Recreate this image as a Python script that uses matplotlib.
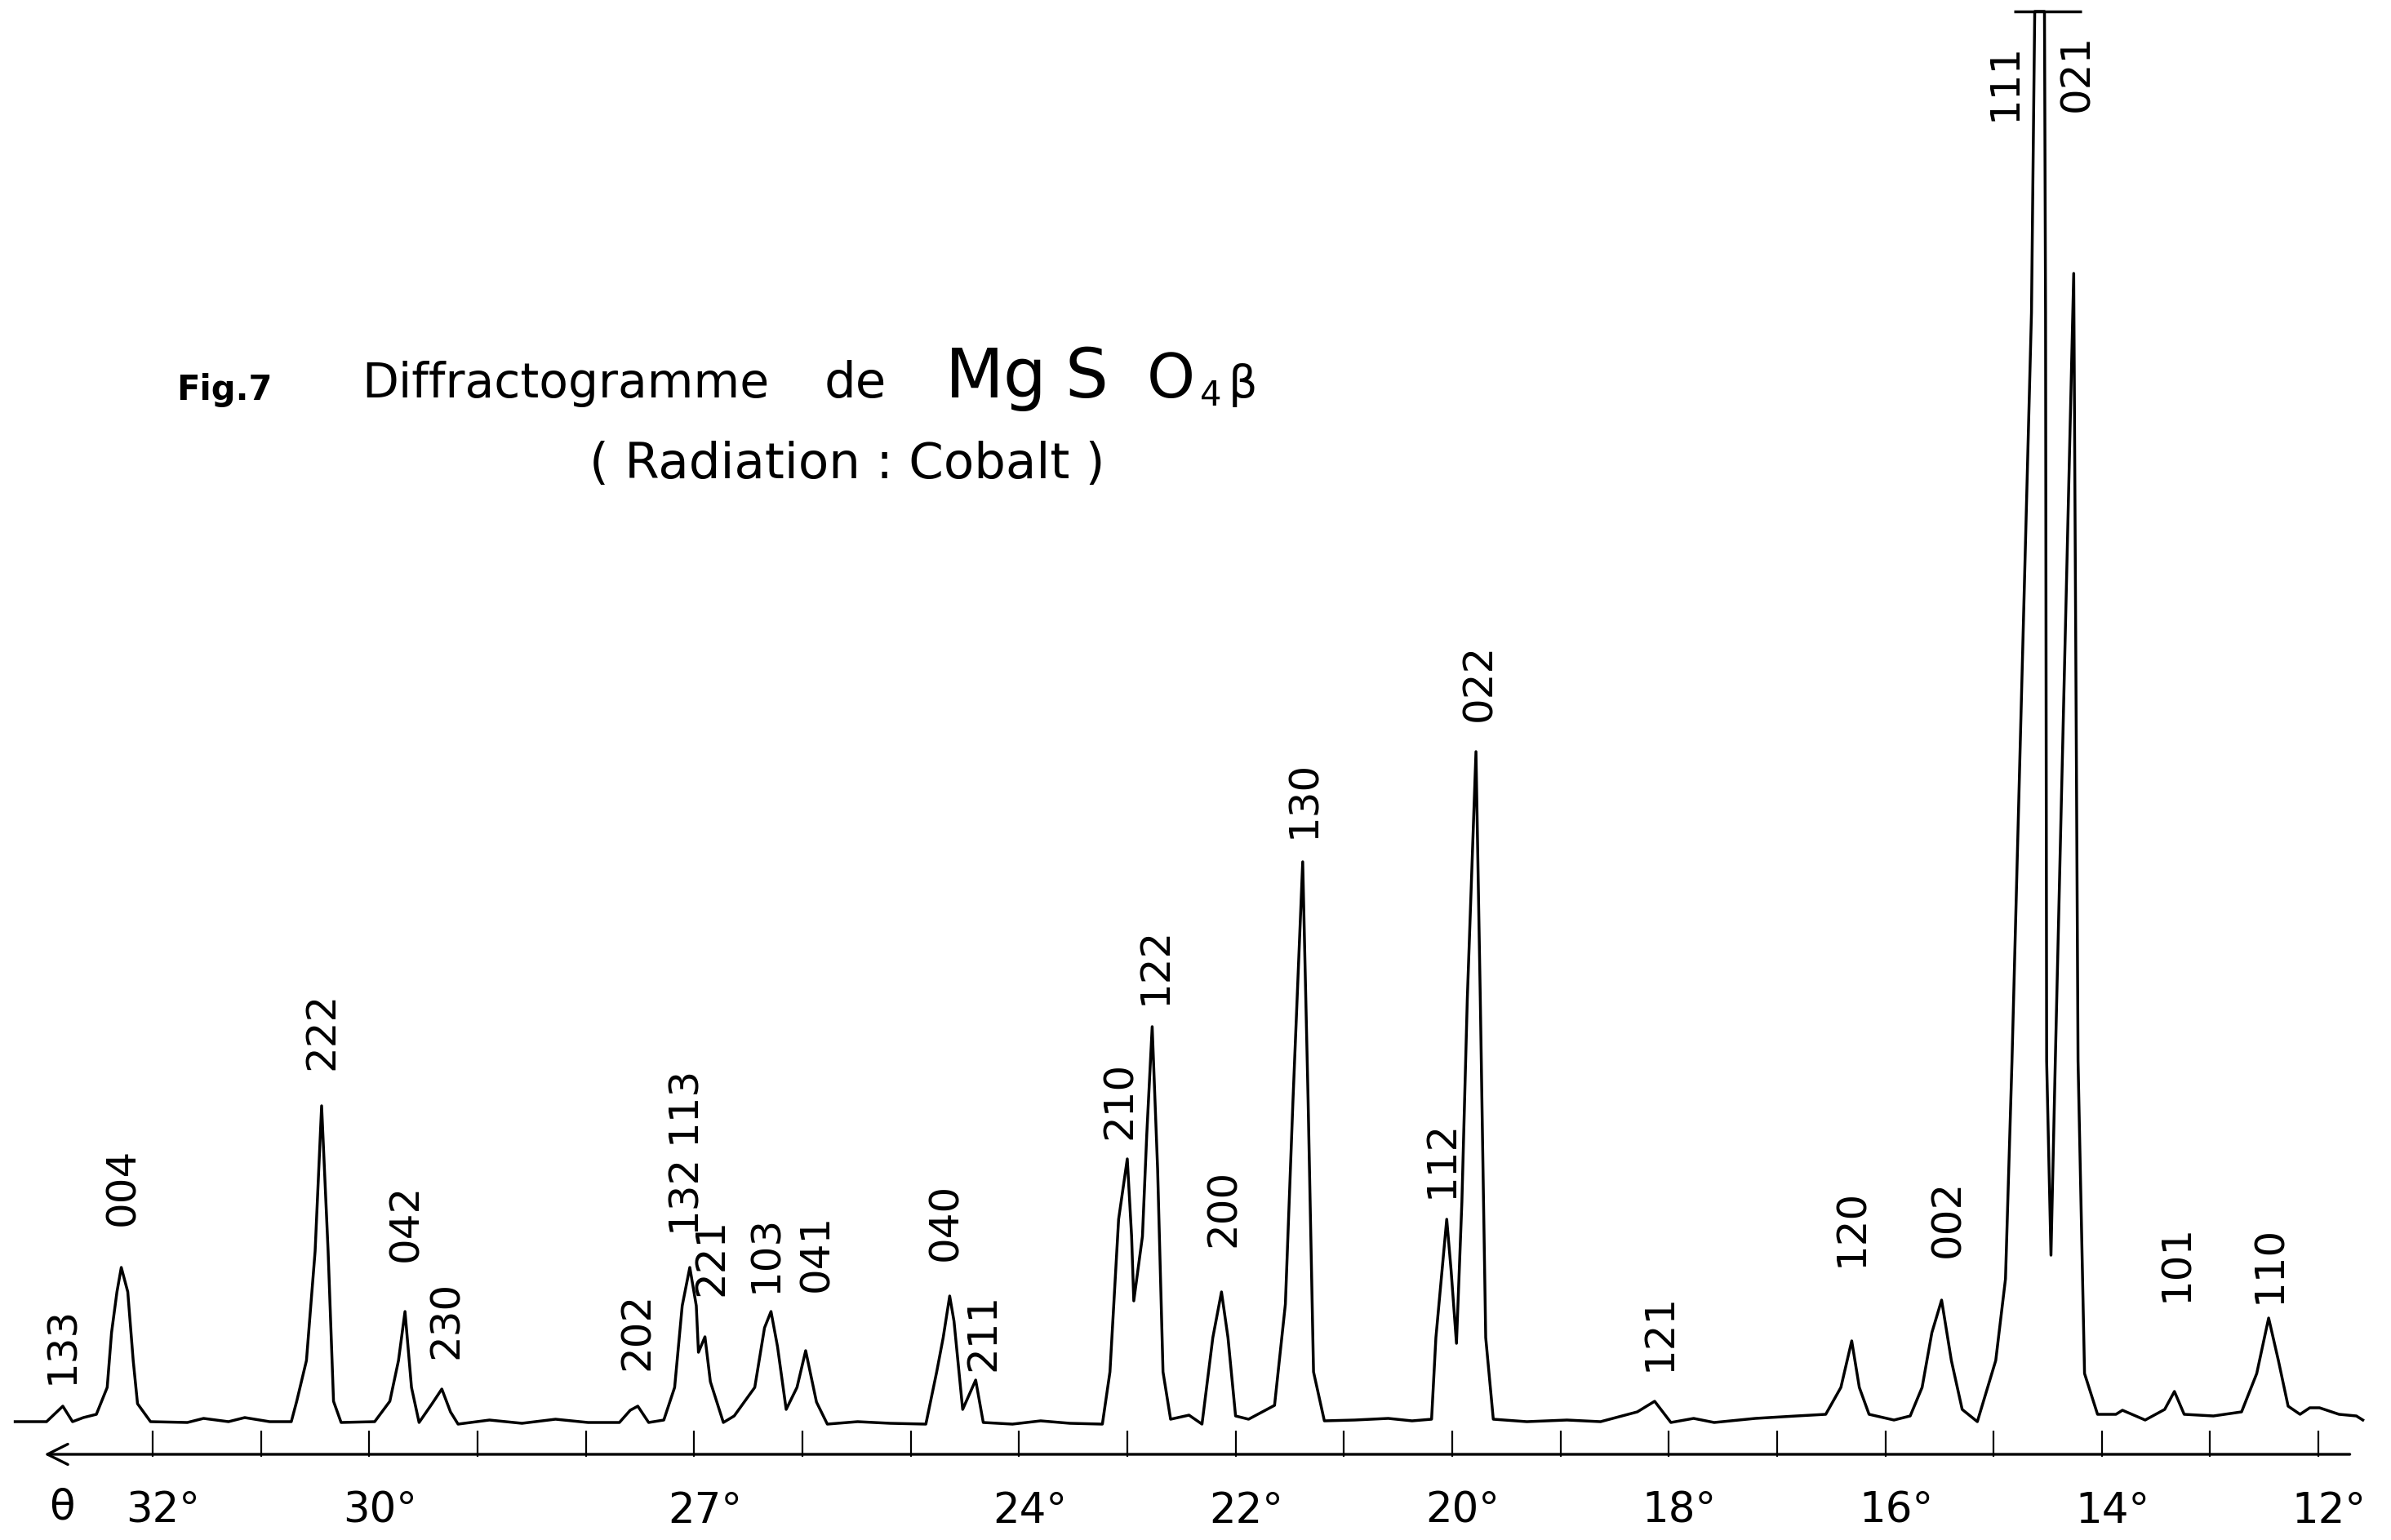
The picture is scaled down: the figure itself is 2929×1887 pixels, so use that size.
import matplotlib.pyplot as plt
from matplotlib.transforms import ScaledTranslation

# trace of the recorder curve (theta in degrees, pen height)
theta = [33.27, 32.98, 32.83, 32.74, 32.64, 32.52, 32.42, 32.38, 32.33, 32.29,
         32.23, 32.18, 32.14, 32.02, 31.68, 31.53, 31.30, 31.15, 30.92, 30.72,
         30.67, 30.58, 30.50, 30.44, 30.38, 30.33, 30.26, 29.95, 29.81, 29.73,
         29.67, 29.61, 29.54, 29.42, 29.33, 29.25, 29.18, 28.89, 28.59, 28.28,
         27.98, 27.69, 27.59, 27.52, 27.42, 27.28, 27.18, 27.11, 27.04, 26.98,
         26.96, 26.90, 26.85, 26.73, 26.63, 26.44, 26.35, 26.29, 26.23, 26.15,
         26.05, 25.97, 25.87, 25.77, 25.49, 25.19, 24.86, 24.76, 24.70, 24.64,
         24.60, 24.52, 24.40, 24.33, 24.06, 23.80, 23.53, 23.23, 23.16, 23.08,
         23.00, 22.96, 22.94, 22.86, 22.82, 22.77, 22.72, 22.67, 22.60, 22.43,
         22.31, 22.21, 22.13, 22.07, 22.00, 21.88, 21.64, 21.54, 21.47, 21.38,
         21.33, 21.28, 21.18, 20.90, 20.59, 20.37, 20.19, 20.15, 20.05, 20.01,
         19.96, 19.91, 19.86, 19.78, 19.74, 19.69, 19.62, 19.31, 18.94, 18.63,
         18.29, 18.13, 17.98, 17.77, 17.58, 17.20, 16.82, 16.55, 16.41, 16.31,
         16.24, 16.15, 15.92, 15.77, 15.66, 15.57, 15.48, 15.39, 15.29, 15.15,
         14.98, 14.89, 14.83, 14.65, 14.62, 14.53, 14.52, 14.51, 14.47, 14.43,
         14.26, 14.22, 14.16, 14.04, 13.87, 13.81, 13.60, 13.42, 13.33, 13.24,
         12.97, 12.71, 12.57, 12.46, 12.37, 12.28, 12.17, 12.08, 11.99, 11.81,
         11.65, 11.59]
intensity = [43, 43, 62, 43, 48, 52, 85, 152, 202, 232,
             202, 118, 65, 43, 42, 47, 43, 48, 43, 43,
             68, 118, 252, 430, 252, 68, 42, 43, 68, 118,
             178, 85, 42, 65, 83, 55, 40, 45, 41, 46,
             42, 42, 57, 62, 42, 45, 85, 185, 232, 185,
             128, 147, 92, 42, 50, 85, 158, 178, 135, 58,
             85, 130, 67, 40, 43, 41, 40, 104, 146, 197,
             166, 58, 94, 42, 40, 44, 41, 40, 104, 291,
             365, 270, 191, 270, 395, 527, 353, 104, 46, 51,
             40, 146, 202, 146, 50, 46, 63, 187, 436, 729,
             436, 104, 44, 45, 47, 44, 46, 146, 291, 229,
             139, 312, 561, 864, 561, 146, 46, 43, 45, 43,
             55, 68, 42, 47, 42, 47, 50, 52, 85, 142,
             85, 52, 45, 50, 85, 152, 192, 118, 58, 43,
             118, 218, 485, 1402, 1771, 1771, 1402, 485, 247, 485,
             1450, 485, 102, 52, 52, 57, 45, 58, 80, 52,
             50, 55, 102, 170, 118, 62, 52, 60, 60, 52,
             50, 45]

# reflections (hkl) and the theta of the peak they mark
peak_hkl = ['133', '004', '222', '042', '230', '202', '132', '113', '221', '103',
            '041', '040', '211', '210', '122', '200', '130', '112', '022', '121',
            '120', '002', '111', '021', '101', '110']
peak_theta = [32.84, 32.28, 30.44, 29.66, 29.29, 27.52, 27.10, 27.10, 26.84, 26.34,
              25.87, 24.68, 24.33, 23.07, 22.75, 22.11, 21.37, 20.10, 19.75, 18.09,
              16.31, 15.42, 14.90, 14.23, 13.31, 12.45]

tick_deg = list(range(12, 33))
labelled_deg = [32, 30, 27, 24, 22, 20, 18, 16, 14, 12]

# height at which each hkl label sits (layout only)
label_y = [137, 331, 522, 287, 168, 154, 324, 432, 245, 249,
           250, 288, 153, 437, 602, 305, 806, 365, 949, 153,
           281, 292, 1685, 1696, 238, 236]

W, H = 2929, 1887
fig = plt.figure(figsize=(W / 100, H / 100), dpi=100)
ax = fig.add_axes([0, 102 / H, 1, 1785 / H])

ax.plot(theta, intensity, color='black', lw=2.5, solid_joinstyle='round')
# off-scale cap over the 111 / 021 doublet
ax.hlines(1771, 14.81, 14.19, color='black', lw=2.5)

ax.set_xlim(33.41, 11.33)
ax.set_ylim(0, 1785)
for s in ax.spines.values():
    s.set_visible(False)
ax.set_yticks([])
ax.set_xticks(tick_deg)
ax.set_xticklabels([f'{d}°' if d in labelled_deg else '' for d in tick_deg],
                   fontsize=37)
ax.tick_params(axis='x', direction='in', length=23, width=1.6, pad=30,
               color='black')
# lettering sits with the digits (not the degree sign) over the tick
shift = ScaledTranslation(0.13, 0, fig.dpi_scale_trans)
for lab in ax.get_xticklabels():
    lab.set_transform(lab.get_transform() + shift)

# theta axis with arrow pointing to high angles
ax.annotate('', xy=(33.0, 3), xytext=(11.71, 3), annotation_clip=False,
            arrowprops=dict(arrowstyle='->,head_length=0.6,head_width=0.3',
                            lw=2.4, color='black', mutation_scale=30,
                            shrinkA=0, shrinkB=0))
ax.text(32.84, -62, 'θ', fontsize=37, ha='center', va='center', clip_on=False)

for hkl, t, y in zip(peak_hkl, peak_theta, label_y):
    ax.text(t, y, hkl, rotation=90, ha='center', va='center', fontsize=36)

# title (hand lettered in the original)
def fx(x):
    return x / W

def fy(y):
    return 1 - y / H

fig.text(fx(216), fy(490), 'Fig.7', fontsize=30, fontweight='bold', va='baseline')
fig.text(fx(443), fy(487), 'Diffractogramme', fontsize=42, va='baseline')
fig.text(fx(1010), fy(487), 'de', fontsize=44, va='baseline')
fig.text(fx(1158), fy(487), 'Mg', fontsize=60, va='baseline')
fig.text(fx(1305), fy(487), 'S', fontsize=60, va='baseline')
fig.text(fx(1405), fy(487), 'O', fontsize=54, va='baseline')
fig.text(fx(1470), fy(497), '4', fontsize=30, va='baseline')
fig.text(fx(1505), fy(487), 'β', fontsize=40, va='baseline')
fig.text(fx(722), fy(570), '( Radiation : Cobalt )', fontsize=44, va='center')

fig.savefig('out.png', dpi=100)
